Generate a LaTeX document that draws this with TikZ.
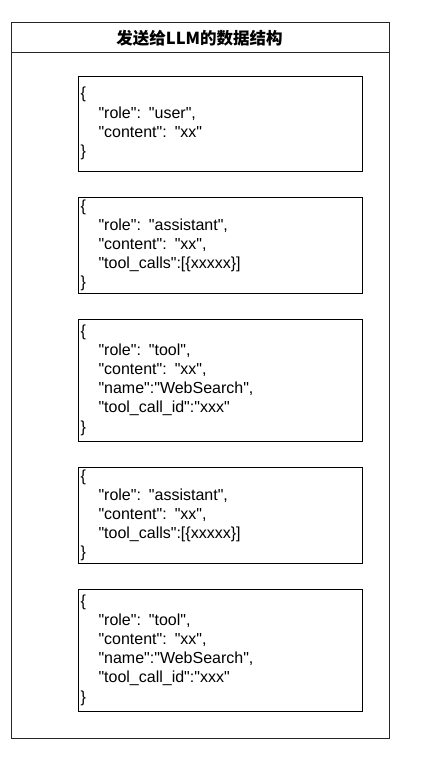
\documentclass[tikz,border=0pt]{standalone}
\usepackage{fontspec}
\setmainfont{Liberation Sans}[Ligatures=TeXOff]
\newfontfamily\cjk{Noto Sans CJK SC}
\begin{document}
\begin{tikzpicture}[x=1pt,y=-1pt,
  frame/.style={draw=black!85, line width=1pt},
  jsonbox/.style={draw=black, line width=1pt, minimum width=284pt, text width=280pt,
    inner sep=2pt, align=left, anchor=north west,
    font=\fontsize{16}{19.2}\selectfont},
  titletext/.style={font=\cjk\bfseries\fontsize{16.5}{20}\selectfont}]
\useasboundingbox (0,0) rectangle (436,766);
\fill[white] (0,0) rectangle (436,766);
\draw[frame] (11,22) rectangle (389,738);
\draw[frame] (11,52.5) -- (389,52.5);
\node[titletext] (title) at (199.5,38) {发送给LLM的数据结构};
\newcommand{\ind}{\hspace*{18pt}}
\node[jsonbox, minimum height=95pt] (b1) at (78,75.5) {\{\\\ind"role": "user",\\\ind"content": "xx"\\\}};
\node[jsonbox, minimum height=94.5pt] (b2) at (78,197) {\{\\\ind"role": "assistant",\\\ind"content": "xx",\\\ind"tool\_calls":[\{xxxxx\}]\\\}};
\node[jsonbox, minimum height=122pt] (b3) at (78,318.5) {\{\\\ind"role": "tool",\\\ind"content": "xx",\\\ind"name":"WebSearch",\\\ind"tool\_call\_id":"xxx"\\\}};
\node[jsonbox, minimum height=93.5pt] (b4) at (78,467) {\{\\\ind"role": "assistant",\\\ind"content": "xx",\\\ind"tool\_calls":[\{xxxxx\}]\\\}};
\node[jsonbox, minimum height=122pt] (b5) at (78,588.5) {\{\\\ind"role": "tool",\\\ind"content": "xx",\\\ind"name":"WebSearch",\\\ind"tool\_call\_id":"xxx"\\\}};
\end{tikzpicture}
\end{document}
